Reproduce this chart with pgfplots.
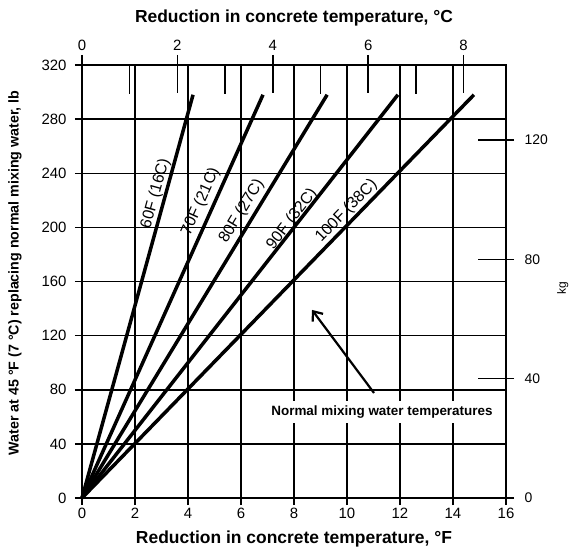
\documentclass[border=0pt]{standalone}
\usepackage{fontspec}
\setmainfont{Liberation Sans}
\usepackage{pgfplots}
\pgfplotsset{compat=1.18}
\usetikzlibrary{arrows.meta}
\begin{document}
\begin{tikzpicture}
\pgfplotsset{
  base/.style={width=424bp,height=433bp,scale only axis, at={(0bp,0bp)}, anchor=south west,
   /pgf/number format/assume math mode=true,
   ticklabel style={font=\fontsize{15}{17}\selectfont},
   label style={font=\bfseries\fontsize{17.5}{20}\selectfont},
   axis line style={line width=2bp},
   tick style={black,line width=1.5bp},
   clip=false,
  },
}
% main axis (deg F, lb)
\begin{axis}[base, xmin=0,xmax=16,ymin=0,ymax=320,
  xtick={0,2,...,16}, ytick={0,40,...,320},
  xtick pos=bottom, ytick pos=left,
  grid=major, grid style={black,line width=1.5bp},
  tick align=center, major tick length=14bp,
  yticklabel style={xshift=-5bp},
  xlabel={Reduction in concrete temperature, °F},
  xlabel style={at={(axis description cs:0.5,0)}, anchor=center, yshift=-41bp},
]
\addplot[black, line width=3.5bp] coordinates {(0,0) (4.19,298)};
\addplot[black, line width=3.5bp] coordinates {(0,0) (6.83,298)};
\addplot[black, line width=3.5bp] coordinates {(0,0) (9.25,298)};
\addplot[black, line width=3.5bp] coordinates {(0,0) (11.92,298)};
\addplot[black, line width=3.5bp] coordinates {(0,0) (14.79,298)};
\node[rotate=74.6, font=\fontsize{16}{18}\selectfont] at (axis cs:2.78,225) {60F (16C)};
\node[rotate=65.8, font=\fontsize{16}{18}\selectfont] at (axis cs:4.48,219) {70F (21C)};
\node[rotate=58.7, font=\fontsize{16}{18}\selectfont] at (axis cs:6.03,212) {80F (27C)};
\node[rotate=51.9, font=\fontsize{16}{18}\selectfont] at (axis cs:7.93,206) {90F (32C)};
\node[rotate=45.8, font=\fontsize{16}{18}\selectfont] at (axis cs:9.98,212) {100F (38C)};
\node[fill=white, inner sep=5bp, font=\bfseries\fontsize{13.5}{15}\selectfont] at (axis cs:11.32,63.6) {Normal mixing water temperatures};
\draw[line width=2.2bp, -{Straight Barb[length=8bp,width=13bp]}] (axis cs:11.02,77.6) -- (axis cs:8.68,139);
\node[rotate=90, font=\bfseries\fontsize{14.3}{16}\selectfont] at (rel axis cs:-0.158,0.52) {Water at 45 °F (7 °C) replacing normal mixing water, lb};
\end{axis}
% top axis (deg C)
\begin{axis}[base, xmin=0, xmax=8.8889, ymin=0, ymax=320,
  axis x line*=top, hide y axis,
  xtick={0,2,4,6,8}, minor xtick={1,3,5,7},
  tick align=center, major tick length=38bp, minor tick length=29bp,
  every major tick/.append style={yshift=-9bp},
  every minor tick/.append style={yshift=-14.5bp},
  xticklabel style={yshift=-8bp},
  xlabel={Reduction in concrete temperature, °C},
  xlabel style={at={(axis description cs:0.5,1)}, anchor=center, yshift=47bp},
]
\end{axis}
% right axis (kg)
\begin{axis}[base, xmin=0, xmax=16, ymin=0, ymax=145.15,
  hide x axis, axis y line*=right,
  ytick={0,40,80,120},
  tick align=center, major tick length=36bp,
  every major tick/.append style={xshift=-10bp},
  yticklabel style={font=\fontsize{14}{16}\selectfont, xshift=-3bp},
]
\node[rotate=90, font=\fontsize{12}{14}\selectfont] at (rel axis cs:1.134,0.485) {kg};
\end{axis}
\pgfresetboundingbox
\path[use as bounding box] (-82bp,-51bp) rectangle (489bp,498bp);
\end{tikzpicture}
\end{document}
